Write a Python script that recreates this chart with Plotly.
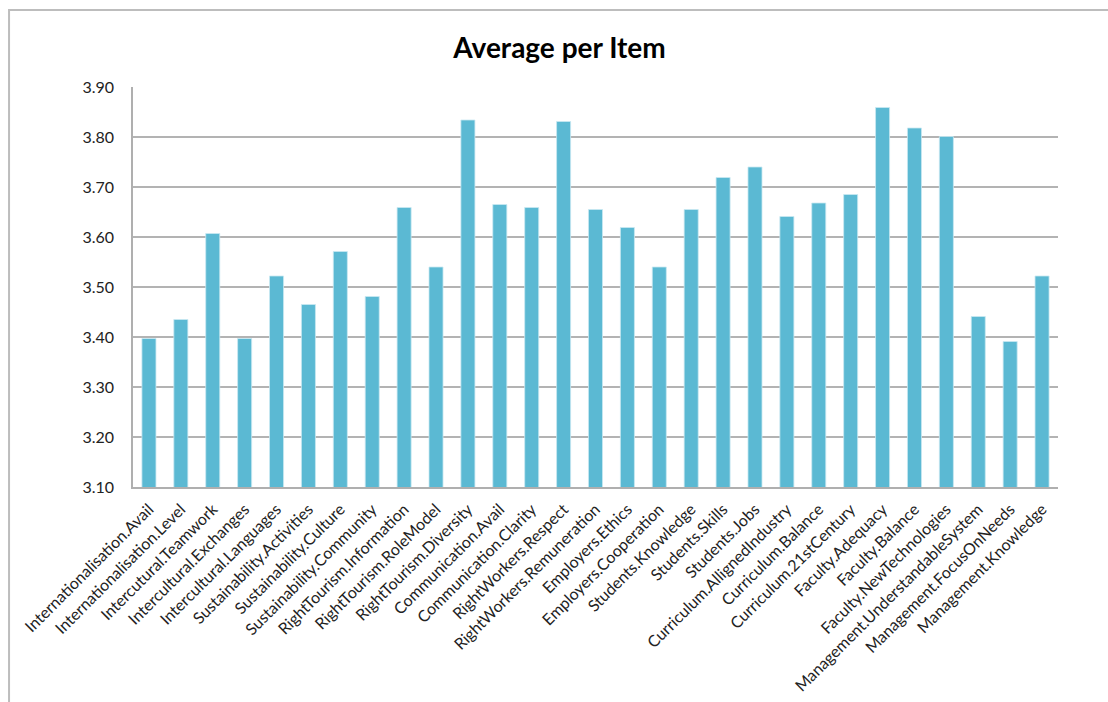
import plotly.graph_objects as go

items = [
    "Internationalisation.Avail", "Internationalisation.Level", "Intercutural.Teamwork",
    "Intercultural.Exchanges", "Intercultural.Languages", "Sustainability.Activities",
    "Sustainability.Culture", "Sustainability.Community", "RightTourism.Information",
    "RightTourism.RoleModel", "RightTourism.Diversity", "Communication.Avail",
    "Communication.Clarity", "RightWorkers.Respect", "RightWorkers.Remuneration",
    "Employers.Ethics", "Employers.Cooperation", "Students.Knowledge", "Students.Skills",
    "Students.Jobs", "Curriculum.AllignedIndustry", "Curriculum.Balance",
    "Curriculum.21stCentury", "Faculty.Adequacy", "Faculty.Balance",
    "Faculty.NewTechnologies", "Management.UnderstandableSystem",
    "Management.FocusOnNeeds", "Management.Knowledge",
]
averages = [
    3.397, 3.435, 3.607, 3.397, 3.522, 3.465, 3.571, 3.481, 3.659, 3.540,
    3.834, 3.665, 3.659, 3.831, 3.655, 3.619, 3.540, 3.655, 3.719, 3.740,
    3.641, 3.668, 3.685, 3.859, 3.818, 3.801, 3.441, 3.391, 3.522,
]
y_ticks = [3.10, 3.20, 3.30, 3.40, 3.50, 3.60, 3.70, 3.80, 3.90]

FONT = "Lato"

fig = go.Figure(go.Bar(
    x=items, y=averages,
    marker=dict(color="#5BB9D3", line=dict(color="#C9E8F1", width=0.8)),
))

fig.update_layout(
    width=1108, height=702,
    margin=dict(l=133, r=50, t=87, b=215),
    paper_bgcolor="white", plot_bgcolor="white",
    bargap=0.56,
    showlegend=False,
    font=dict(family=FONT, size=16, color="#222222"),
    title=dict(text="<b>Average per Item</b>", x=0.505, xanchor="center",
               y=0.932, yanchor="middle",
               font=dict(family=FONT, size=28, color="#000000")),
    shapes=[dict(type="rect", xref="paper", yref="paper",
                 x0=-0.134, x1=1.2, y0=-0.7, y1=1.1925,
                 line=dict(color="#BDBDBD", width=2), layer="below")],
)

fig.update_xaxes(
    tickangle=-45, showgrid=False, showline=True, linecolor="#AFAFAF", linewidth=1.5,
    tickfont=dict(family=FONT, size=16, color="#222222"), ticks="",
    ticklabelstandoff=5, automargin=False,
)
fig.update_yaxes(
    range=[3.10, 3.90], tickvals=y_ticks, tickformat=".2f",
    showgrid=True, gridcolor="#B3B3B3", gridwidth=1.5,
    showline=True, linecolor="#AFAFAF", linewidth=1.5,
    zeroline=False, ticklabelstandoff=14, automargin=False,
    tickfont=dict(family=FONT, size=16, color="#222222"),
)

fig.write_html("out.html")
